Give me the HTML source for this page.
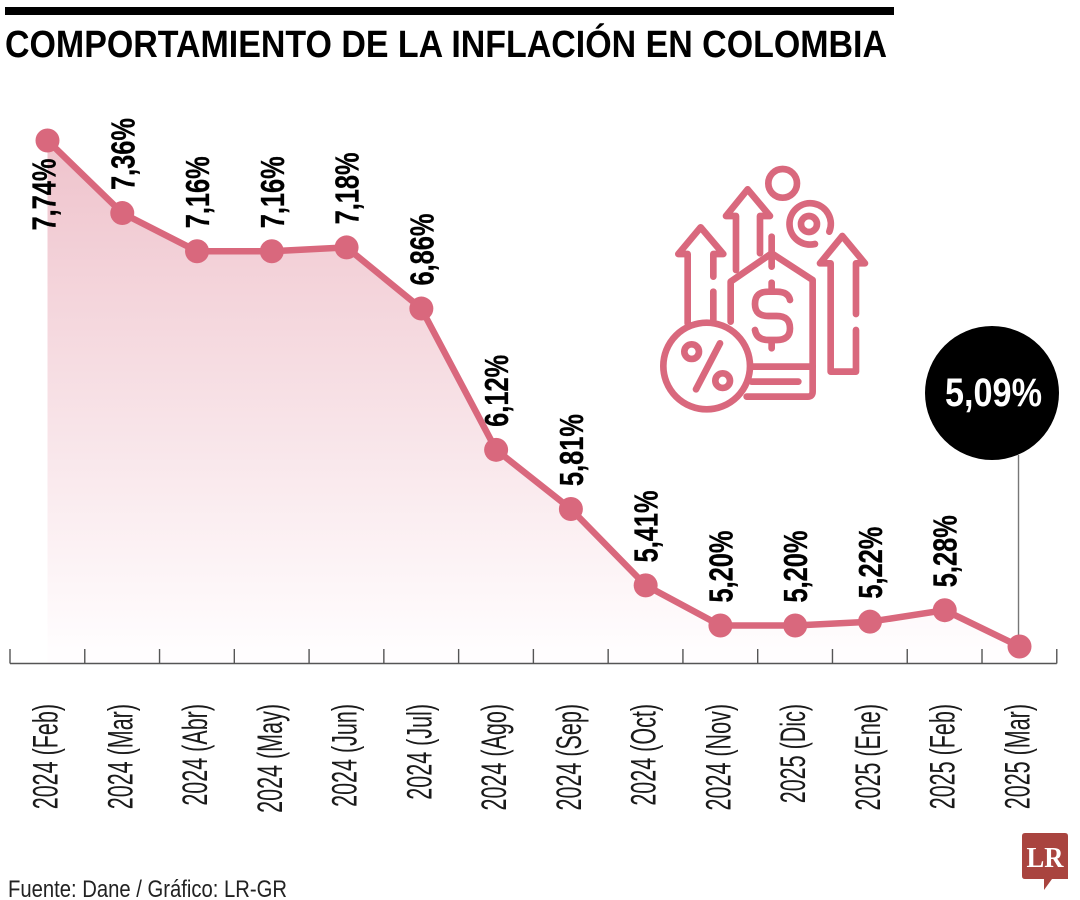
<!DOCTYPE html>
<html lang="es">
<head>
<meta charset="utf-8">
<title>Comportamiento de la inflación en Colombia</title>
<style>
html,body{margin:0;padding:0;background:#fff;width:1080px;height:900px;overflow:hidden}
svg{display:block;font-family:"Liberation Sans",sans-serif}
</style>
</head>
<body>
<svg id="chart" width="1080" height="900" viewBox="0 0 1080 900" xmlns="http://www.w3.org/2000/svg">
  <defs>
    <linearGradient id="areaGrad" gradientUnits="userSpaceOnUse" x1="0" y1="140" x2="0" y2="650">
      <stop offset="0" stop-color="#efc3cc"/>
      <stop offset="1" stop-color="#fffdfe"/>
    </linearGradient>
  </defs>
  <rect width="1080" height="900" fill="#fff"/>
  <rect x="5" y="7" width="889" height="8" fill="#000"/>
  <text x="5" y="57" font-size="38" font-weight="700" fill="#000" textLength="882" lengthAdjust="spacingAndGlyphs">COMPORTAMIENTO DE LA INFLACIÓN EN COLOMBIA</text>

  <g id="plot"></g>

  <g transform="translate(640,150) scale(0.3333)" fill="none" stroke="#d9687d" stroke-width="20" stroke-linecap="round" stroke-linejoin="round">
    <circle cx="428" cy="100" r="43"/>
    <circle cx="507" cy="222" r="24"/>
    <path d="M568 245A62 62 0 1 0 525 282"/>
    <path d="M143 520V312H115L182 232L250 312H220V380M220 425V510"/>
    <path d="M288 360V198H258L323 118L390 198H360V310"/>
    <path d="M648 492V340H675L607 258L540 340H572V665H648V540"/>
    <path d="M272 515V395L395 310L518 390V725Q518 740 503 740H320"/>
    <path d="M395 260V350"/>
    <path d="M335 650H518M335 695H475"/>
    <path d="M450 450Q445 425 410 425H385Q345 425 345 462Q345 498 385 498H410Q450 498 450 535Q450 570 410 570H385Q350 570 345 540M395 398V425M395 570V595"/>
    <circle cx="200" cy="648" r="130" fill="#fff"/>
    <path d="M240 580L168 718"/>
    <circle cx="155" cy="605" r="22"/>
    <circle cx="248" cy="692" r="22"/>
  </g>

  <text x="8" y="897" font-size="24" fill="#222" textLength="279" lengthAdjust="spacingAndGlyphs">Fuente: Dane / Gráfico: LR-GR</text>

  <g>
    <path d="M1025 833H1065Q1068 833 1068 836V879H1052L1044 890V879H1025Q1022 879 1022 876V836Q1022 833 1025 833Z" fill="#a9443f"/>
    <text x="1045" y="867" text-anchor="middle" font-family="'Liberation Serif',serif" font-size="28" font-weight="700" fill="#fff" textLength="37" lengthAdjust="spacingAndGlyphs">LR</text>
  </g>
</svg>
<script>
var categories = ["2024 (Feb)","2024 (Mar)","2024 (Abr)","2024 (May)","2024 (Jun)","2024 (Jul)","2024 (Ago)","2024 (Sep)","2024 (Oct)","2024 (Nov)","2025 (Dic)","2025 (Ene)","2025 (Feb)","2025 (Mar)"];
var inflation = [7.74,7.36,7.16,7.16,7.18,6.86,6.12,5.81,5.41,5.20,5.20,5.22,5.28,5.09];

var NS = "http://www.w3.org/2000/svg";
var plot = document.getElementById("plot");
var X0 = 47.5, XSTEP = 74.77;
var Y_TOP = 140.5, Y_BOTTOM = 646.5;
var V_MAX = 7.74, V_MIN = 5.09;
var AXIS_Y = 663.5, AXIS_LEFT = 10;

function xScale(i){ return X0 + i * XSTEP; }
function yScale(v){ return Y_TOP + (V_MAX - v) * (Y_BOTTOM - Y_TOP) / (V_MAX - V_MIN); }
function fmt(v){ return v.toFixed(2).replace(".", ",") + "%"; }
function make(tag, attrs, parent){
  var el = document.createElementNS(NS, tag);
  for (var k in attrs) el.setAttribute(k, attrs[k]);
  (parent || plot).appendChild(el);
  return el;
}

var lastI = inflation.length - 1;
var linePts = inflation.map(function(v, i){ return xScale(i).toFixed(1) + "," + yScale(v).toFixed(1); });

var area = make("polygon", {points: xScale(0) + "," + AXIS_Y + " " + linePts.join(" ") + " " + xScale(lastI) + "," + AXIS_Y, fill: "url(#areaGrad)"});



var axis = make("line", {x1: AXIS_LEFT, x2: AXIS_LEFT + XSTEP * categories.length, y1: AXIS_Y, y2: AXIS_Y, stroke: "#555", "stroke-width": 1.4});



for (var t = 0; t <= categories.length; t++) {
  var tx = AXIS_LEFT + t * XSTEP;
  var tick = make("line", {x1: tx, x2: tx, y1: AXIS_Y - 14.5, y2: AXIS_Y, stroke: "#555", "stroke-width": 1.4});
  
  
}

categories.forEach(function(c, i){
  var lab = make("text", {transform: "translate(" + (xScale(i) + 10) + ",704) rotate(-90) scale(0.615,1)", "text-anchor": "end", "font-size": 35, fill: "#1a1a1a"});
  lab.textContent = c;
  
  
});

var callout = make("line", {x1: xScale(lastI) - 1, x2: xScale(lastI) - 1, y1: 455, y2: yScale(inflation[lastI]), stroke: "#777", "stroke-width": 1.4});



var line = make("polyline", {points: linePts.join(" "), fill: "none", stroke: "#d9687d", "stroke-width": 6.5, "stroke-linejoin": "round"});



inflation.forEach(function(v, i){
  var dot = make("circle", {cx: xScale(i), cy: yScale(v), r: 12, fill: "#d9687d"});
  
  
});

inflation.forEach(function(v, i){
  if (i === lastI) return;
  var bx = xScale(i) + (i === 0 ? 8 : 12);
  var by = i === 0 ? yScale(v) + 90 : yScale(v) - 23;
  var vl = make("text", {transform: "translate(" + bx + "," + by + ") rotate(-90) scale(0.77,1)", "font-size": 33, "font-weight": 700, fill: "#000", stroke: "#000", "stroke-width": 0.3});
  vl.textContent = fmt(v);
  
  
});

var bubble = make("circle", {cx: 992, cy: 393, r: 67, fill: "#000"});



var bubbleText = make("text", {x: 945, y: 406, "font-size": 40, "font-weight": 700, fill: "#fff", textLength: 97, lengthAdjust: "spacingAndGlyphs"});
bubbleText.textContent = fmt(inflation[lastI]);


</script>
</body>
</html>
